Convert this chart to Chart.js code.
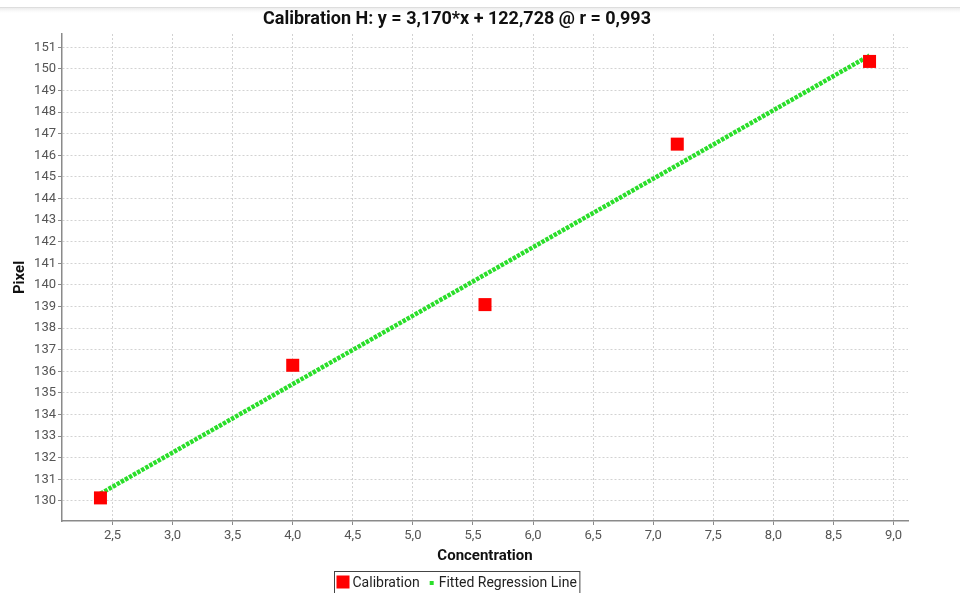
<!DOCTYPE html>
<html>
<head>
<meta charset="utf-8">
<title>Calibration H</title>
<script src="https://cdn.jsdelivr.net/npm/chart.js@4/dist/chart.umd.min.js"></script>
<style>
  html, body { margin: 0; padding: 0; background: #fff; }
  body { width: 960px; height: 593px; position: relative; overflow: hidden; }
  #wrap { position: absolute; left: 0; top: 0; width: 914px; height: 593px; z-index: 3; }
  #bar-edge { position: absolute; left: 0; top: 7px; width: 960px; height: 6px; z-index: 1;
    background: linear-gradient(#cfcfcf 0, #ececec 1px, #fafafa 4px, rgba(255,255,255,0) 6px); }
</style>
</head>
<body>
<div id="bar-edge"></div>
<div id="wrap"><canvas id="chart" width="914" height="593"></canvas></div>
<script>
// Calibration standards: concentration vs. measured pixel position
const concentrations = [2.4, 4.0, 5.6, 7.2, 8.8];
const pixels = [130.14, 136.28, 139.09, 146.52, 150.35];

// Least-squares fit reported in the title
const slope = 3.170;
const intercept = 122.728;
const correlation = 0.993;

// Axis ranges (auto range with a small margin around the data)
const xRange = [2.08, 9.12];
const yRange = [129.07, 151.62];

const comma = (v, d) => v.toFixed(d).replace('.', ',');
const titleText = 'Calibration H: y = ' + comma(slope, 3) + '*x + ' + comma(intercept, 3) + ' @ r = ' + comma(correlation, 3);

const fitEnds = [concentrations[0], concentrations[concentrations.length - 1]];
const fitLine = fitEnds.map(x => ({ x: x, y: slope * x + intercept }));

const calPoints = concentrations.map((x, i) => ({ x: x, y: pixels[i] }));

const RED = '#ff0000';
const GREEN = '#2ade2a';
const TICK_FONT = { family: 'Roboto, "Noto Sans", sans-serif', size: 13 };
const AXIS_TITLE_FONT = { family: 'Roboto, "Noto Sans", sans-serif', size: 15, weight: 'bold' };

// Title (condensed bold) and boxed legend drawn on the canvas
const decorations = {
  id: 'decorations',
  afterDraw(chart) {
    const ctx = chart.ctx;
    const cx = chart.width / 2;
    ctx.save();
    // title, squeezed horizontally to a condensed width
    ctx.fillStyle = '#111';
    ctx.font = 'bold 18px Roboto, "Noto Sans", sans-serif';
    ctx.textAlign = 'center';
    ctx.textBaseline = 'alphabetic';
    const natural = ctx.measureText(titleText).width;
    const squeeze = Math.min(1, 388 / natural);
    ctx.save();
    ctx.translate(cx, 24);
    ctx.scale(squeeze, 1);
    ctx.fillText(titleText, 0, 0);
    ctx.restore();

    // legend
    ctx.font = '14px Roboto, "Noto Sans", sans-serif';
    ctx.textBaseline = 'middle';
    const t1 = 'Calibration', t2 = 'Fitted Regression Line';
    const w1 = ctx.measureText(t1).width, w2 = ctx.measureText(t2).width;
    const sq = 13, dot = 4;
    const total = 2 + sq + 3 + w1 + 10 + dot + 5 + w2 + 3;
    const left = Math.round(cx - total / 2) + 0.5;
    const top = 571.5;
    ctx.strokeStyle = '#444';
    ctx.lineWidth = 1;
    ctx.strokeRect(left, top, total, 26);
    const midY = 582;
    let x = left + 2;
    ctx.fillStyle = RED;
    ctx.fillRect(x, midY - 6.5, sq, sq);
    x += sq + 3;
    ctx.fillStyle = '#222';
    ctx.textAlign = 'left';
    ctx.fillText(t1, x, midY + 1);
    x += w1 + 10;
    ctx.fillStyle = GREEN;
    ctx.fillRect(x, midY - 1, dot, dot);
    x += dot + 5;
    ctx.fillStyle = '#222';
    ctx.fillText(t2, x, midY + 1);
    ctx.restore();
  }
};

new Chart(document.getElementById('chart'), {
  type: 'scatter',
  data: {
    datasets: [
      {
        label: 'Calibration',
        data: calPoints,
        pointStyle: 'rect',
        pointRadius: 9.2,
        pointHoverRadius: 9.2,
        backgroundColor: RED,
        borderWidth: 0,
        showLine: false
      },
      {
        label: 'Fitted Regression Line',
        type: 'line',
        data: fitLine,
        borderColor: GREEN,
        borderWidth: 4.5,
        borderDash: [3.5, 1.2],
        borderCapStyle: 'butt',
        pointRadius: 0,
        fill: false
      }
    ]
  },
  options: {
    responsive: false,
    devicePixelRatio: 1,
    animation: false,
    layout: { autoPadding: false, padding: { top: 34, left: 0, right: 6, bottom: 0 } },
    plugins: {
      legend: { display: false },
      title: { display: false },
      tooltip: { enabled: false }
    },
    scales: {
      x: {
        type: 'linear',
        min: xRange[0],
        max: xRange[1],
        afterFit(scale) {
          scale.height = 72;
          scale.paddingLeft = 0;
          scale.paddingRight = 0;
        },
        ticks: {
          stepSize: 0.5,
          includeBounds: false,
          autoSkip: false,
          maxRotation: 0,
          padding: 3,
          color: '#555',
          font: TICK_FONT,
          callback: v => comma(v, 1)
        },
        grid: {
          color: '#d2d2d2',
          lineWidth: 1,
          drawTicks: true,
          tickLength: 4,
          tickColor: '#8a8a8a',
          tickWidth: 1
        },
        border: { display: true, color: '#8a8a8a', width: 1.5, dash: [2, 2] },
        title: {
          display: true,
          text: 'Concentration',
          color: '#111',
          font: AXIS_TITLE_FONT,
          padding: { top: 0, bottom: 28 }
        }
      },
      y: {
        type: 'linear',
        min: yRange[0],
        max: yRange[1],
        afterFit(scale) {
          scale.width = 62;
          scale.paddingTop = 0;
          scale.paddingBottom = 0;
        },
        ticks: {
          stepSize: 1,
          includeBounds: false,
          autoSkip: false,
          padding: 2,
          color: '#555',
          font: TICK_FONT
        },
        grid: {
          color: '#d2d2d2',
          lineWidth: 1,
          drawTicks: true,
          tickLength: 4,
          tickColor: '#8a8a8a',
          tickWidth: 1
        },
        border: { display: true, color: '#8a8a8a', width: 1.5, dash: [2, 2] },
        title: {
          display: true,
          text: 'Pixel',
          color: '#111',
          font: AXIS_TITLE_FONT,
          padding: { top: 11, bottom: 0 }
        }
      }
    }
  },
  plugins: [decorations]
});
</script>
</body>
</html>
